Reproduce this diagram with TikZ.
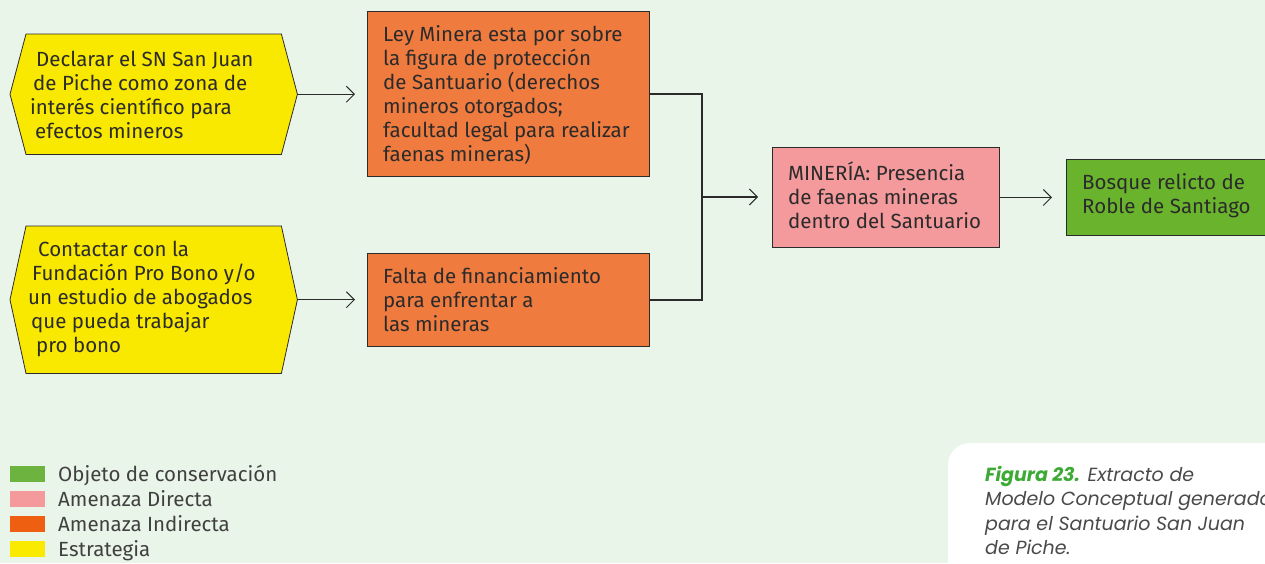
\documentclass[tikz,border=0pt]{standalone}
\usepackage{fontspec}
\setmainfont{Fira Sans}
\newfontfamily\capfont{Poppins}
\usetikzlibrary{arrows.meta,calc}
\definecolor{bg}{HTML}{EAF5EA}
\definecolor{yel}{HTML}{F9E800}
\definecolor{ora}{HTML}{F07B3F}
\definecolor{pnk}{HTML}{F4999C}
\definecolor{grn}{HTML}{6AB42D}
\definecolor{lgorange}{HTML}{EE5F12}
\definecolor{lggreen}{HTML}{6DB33F}
\definecolor{lgpink}{HTML}{F4999C}
\definecolor{lgyellow}{HTML}{FAEA00}
\definecolor{ink}{HTML}{2B2B2B}
\definecolor{capgreen}{HTML}{3DAA35}
\definecolor{capgray}{HTML}{4A4A4A}
\begin{document}
\begin{tikzpicture}[x=1pt,y=-1pt,
  box/.style={draw=ink, line width=0.9pt, inner sep=0pt, anchor=north west},
  hexframe/.style={inner sep=0pt, anchor=north west, minimum width=287pt},
  hexfill/.style={fill=yel, draw=ink, line width=0.8pt},
  txt/.style={inner sep=0pt, anchor=north west, align=left, font=\fontsize{20.5}{24}\selectfont, text=ink},
  conn/.style={draw=ink, line width=1.1pt},
  arr/.style={conn, -{Straight Barb[length=8pt, width=16pt, line width=1pt]}},
  lg/.style={inner sep=0pt, anchor=north west, minimum width=35pt, minimum height=16pt},
  lgtxt/.style={inner sep=0pt, anchor=base west, font=\fontsize{20.5}{24}\selectfont, text=ink!90},
  ]
\useasboundingbox (0,0) rectangle (1265,563);
\clip (0,0) rectangle (1265,563);
\fill[bg] (0,0) rectangle (1265,563);

% strategies (hexagons)
\node[hexframe, minimum height=120pt] (y1) at (10,34) {};
\filldraw[hexfill] (y1.west) -- ($(y1.north west)+(16,0)$) -- ($(y1.north east)+(-16,0)$) -- (y1.east) -- ($(y1.south east)+(-16,0)$) -- ($(y1.south west)+(16,0)$) -- cycle;
\node[hexframe, minimum height=147pt] (y2) at (10,226) {};
\filldraw[hexfill] (y2.west) -- ($(y2.north west)+(16,0)$) -- ($(y2.north east)+(-16,0)$) -- (y2.east) -- ($(y2.south east)+(-16,0)$) -- ($(y2.south west)+(16,0)$) -- cycle;

\node[txt] (ty1) at (30,49.2) {\strut\hspace*{6pt}Declarar el SN San Juan\\\hspace*{3pt}de Piche como zona de\\interés científico para\\\hspace*{5pt}efectos mineros};
\node[txt] (ty2) at (28,239.2) {\strut\hspace*{10pt}Contactar con la\\\hspace*{4pt}Fundación Pro Bono y/o\\un estudio de abogados\\\hspace*{3pt}que pueda trabajar\\\hspace*{8pt}pro bono};

% indirect threats
\node[box, fill=ora, minimum width=282pt, minimum height=165pt] (o1) at (367,11) {};
\node[box, fill=ora, minimum width=282pt, minimum height=93pt] (o2) at (367,253) {};
\node[txt] (to1) at (383,24.9) {\strut Ley Minera esta por sobre\\la figura de protección\\de Santuario (derechos\\mineros otorgados;\\facultad legal para realizar\\faenas mineras)};
\node[txt] (to2) at (383,266.2) {\strut Falta de financiamiento\\para enfrentar a\\las mineras};

% direct threat
\node[box, fill=pnk, minimum width=227pt, minimum height=100pt] (p) at (772,147) {};
\node[txt] (tp) at (788,161.2) {\strut MINERÍA: Presencia\\de faenas mineras\\dentro del Santuario};

% conservation object
\node[box, fill=grn, minimum width=230pt, minimum height=76pt] (g) at (1066,159) {};
\node[txt] (tg) at (1082,172.2) {\strut Bosque relicto de\\Roble de Santiago};

% connectors
\draw[arr, shorten >=12pt] (y1.east) -- (y1.east -| o1.west);
\draw[arr, shorten >=12pt] (y2.east) -- (y2.east -| o2.west);
\coordinate (j) at (702,197);
\draw[conn] (o1.east) -- (o1.east -| j) -- (o2.east -| j) -- (o2.east);
\draw[arr, shorten >=14pt] (j) -- (j -| p.west);
\draw[arr, shorten >=14pt] (p.east) -- (p.east -| g.west);

% legend
\node[lg, fill=lggreen] (l1) at (10,466) {};
\node[lg, fill=lgpink] (l2) at (10,491) {};
\node[lg, fill=lgorange] (l3) at (10,516) {};
\node[lg, fill=lgyellow] (l4) at (10,541) {};
\node[lgtxt] (lt1) at (58,481) {Objeto de conservación};
\node[lgtxt] (lt2) at (58,506) {Amenaza Directa};
\node[lgtxt] (lt3) at (58,531) {Amenaza Indirecta};
\node[lgtxt] (lt4) at (58,556) {Estrategia};

% caption
\fill[white, rounded corners=22pt] (948,620) -- (948,443) -- (1320,443) -- (1320,620) -- cycle;
\node[inner sep=0pt, anchor=north west, align=left, font=\capfont\itshape\fontsize{19}{24.5}\selectfont, text=capgray] (cap) at (985,463.9) {\strut{\color{capgreen}\bfseries Figura 23.} Extracto de\\Modelo Conceptual generado\\para el Santuario San Juan\\de Piche.};
\end{tikzpicture}
\end{document}
